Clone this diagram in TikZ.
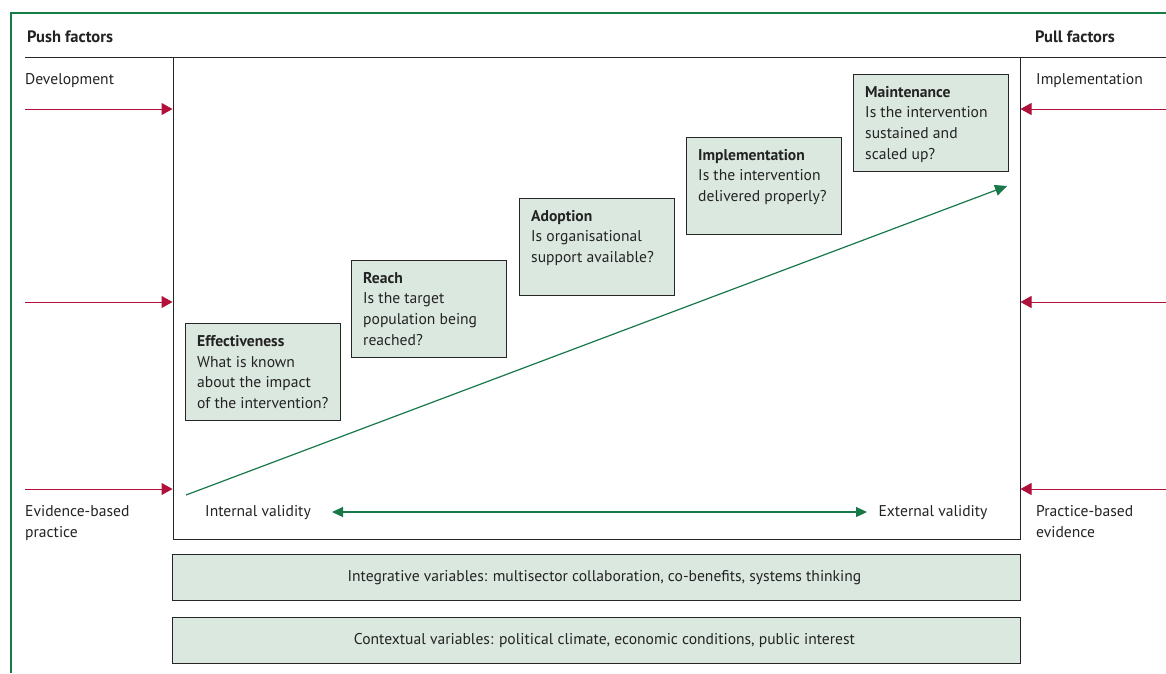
\documentclass[tikz,border=0pt]{standalone}
\usepackage{fontspec}
\setmainfont{PT Sans}
\usetikzlibrary{arrows.meta}
\definecolor{framegreen}{RGB}{20,125,70}
\definecolor{arrowgreen}{RGB}{23,121,74}
\definecolor{pushred}{RGB}{176,16,58}
\definecolor{boxfill}{RGB}{219,232,224}
\definecolor{txt}{RGB}{35,35,35}
\tikzset{
  lbl/.style={anchor=base west, inner sep=0pt, text=txt, font=\fontsize{15.6}{21}\selectfont},
  hdr/.style={anchor=base west, inner sep=0pt, text=txt, font=\fontsize{16.5}{21}\selectfont\bfseries},
  stagebox/.style={draw=black!85, line width=0.9pt, fill=boxfill, anchor=north west,
     minimum width=155pt, minimum height=97pt, inner sep=0pt},
  stagetext/.style={anchor=north west, inner sep=0pt, text=txt, align=left,
     font=\fontsize{15.6}{20.7}\selectfont},
  varbox/.style={draw=black!85, line width=0.9pt, fill=boxfill, anchor=north west,
     minimum width=848pt, minimum height=46pt, inner sep=0pt},
  vartext/.style={anchor=center, inner sep=0pt, text=txt, font=\fontsize{15.6}{20}\selectfont},
  redarrow/.style={draw=pushred, line width=1pt, -{Triangle[length=11pt,width=12pt]}},
  greenarrow/.style={draw=arrowgreen, line width=1.2pt, -{Triangle[length=12pt,width=11pt]}},
  greendouble/.style={draw=arrowgreen, line width=1.2pt, {Triangle[length=11pt,width=10pt]}-{Triangle[length=11pt,width=10pt]}}
}
\begin{document}
\begin{tikzpicture}[x=1pt,y=-1pt]
\useasboundingbox[fill=white] (0,0) rectangle (1166,673);
% outer frame corner
\draw[framegreen, line width=1.1pt] (11,673) -- (11,13) -- (1166,13);
% header rule
\draw[black!85, line width=1pt] (25,57) -- (1166,57);
% main box sides
\coordinate (mainTL) at (173,57);
\coordinate (mainBL) at (173,539);
\coordinate (mainBR) at (1020,539);
\coordinate (mainTR) at (1020,57);
\draw[black!85, line width=1pt] (mainTL) -- (mainBL) -- (mainBR) -- (mainTR);

% headers
\node[hdr] (push) at (27,42) {Push factors};
\node[hdr] (pull) at (1035,42) {Pull factors};
\node[lbl] (dev) at (25,84) {Development};
\node[lbl] (impl) at (1036,84) {Implementation};
\node[lbl, align=left, anchor=north west] (ebp) at (25,505) {Evidence-based\\practice};
\node[lbl, align=left, anchor=north west] (pbe) at (1036,505) {Practice-based\\evidence};

% push arrows
\foreach \y/\n in {109/a,302/b,489/c}{
  \coordinate (pl\n) at (25,\y);
  \coordinate (pr\n) at (172.5,\y);
  \draw[redarrow] (pl\n) -- (pr\n);
  \coordinate (ql\n) at (1166,\y);
  \coordinate (qr\n) at (1020.5,\y);
  \draw[redarrow] (ql\n) -- (qr\n);
}

% stage boxes
\node[stagebox] (eff) at (185,323) {};
\node[stagetext] at (197,335) {\textbf{Effectiveness}\\What is known\\about the impact\\of the intervention?};
\node[stagebox] (reach) at (351,260) {};
\node[stagetext] at (363,272) {\textbf{Reach}\\Is the target\\population being\\reached?};
\node[stagebox] (adopt) at (519,198) {};
\node[stagetext] at (531,210) {\textbf{Adoption}\\Is organisational\\support available?};
\node[stagebox] (implb) at (686,137) {};
\node[stagetext] at (698,149) {\textbf{Implementation}\\Is the intervention\\delivered properly?};
\node[stagebox] (maint) at (853,74) {};
\node[stagetext] at (865,86) {\textbf{Maintenance}\\Is the intervention\\sustained and\\scaled up?};

% diagonal arrow
\coordinate (diagS) at (186,495);
\coordinate (diagE) at (1007,186);
\draw[greenarrow] (diagS) -- (diagE);

% validity
\node[lbl, anchor=base] (intv) at (258,516) {Internal validity};
\node[lbl, anchor=base] (extv) at (933,516) {External validity};
\coordinate (dL) at (332,512);
\coordinate (dR) at (867,512);
\draw[greendouble] (dL) -- (dR);

% variable boxes
\node[varbox] (integ) at (172,554) {};
\node[vartext] at ([xshift=8pt]integ.center) {Integrative variables: multisector collaboration, co-benefits, systems thinking};
\node[varbox] (context) at (172,617) {};
\node[vartext] at ([xshift=8pt]context.center) {Contextual variables: political climate, economic conditions, public interest};
\end{tikzpicture}
\end{document}
